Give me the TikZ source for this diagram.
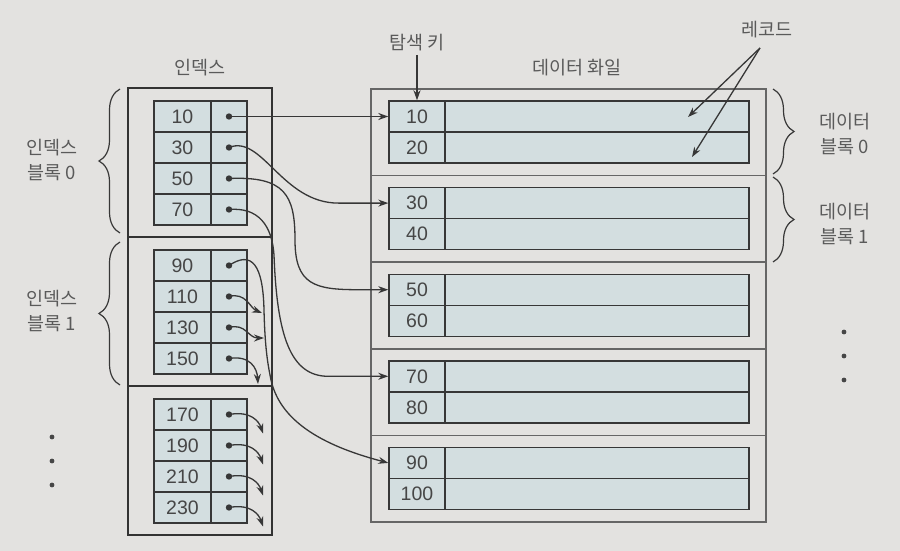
\documentclass[tikz,border=0pt]{standalone}
\usepackage{fontspec}
\setmainfont{Liberation Sans}
\newfontfamily\kr{Noto Sans CJK KR}
\usetikzlibrary{arrows.meta,decorations.pathreplacing}
\definecolor{bgcol}{RGB}{227,226,224}
\definecolor{cellcol}{RGB}{211,222,224}
\definecolor{linecol}{RGB}{55,55,55}
\definecolor{txtcol}{RGB}{70,70,70}
\definecolor{lblcol}{RGB}{90,90,90}

\tikzset{
  cell/.style={draw=linecol, fill=cellcol, line width=1.4pt, minimum height=31pt,
    inner sep=0pt, text=txtcol, font=\fontsize{19.5}{19.5}\selectfont},
  ikeycell/.style={cell, minimum width=57pt},
  iptrcell/.style={cell, minimum width=36pt},
  dkeycell/.style={cell, minimum width=56pt},
  reccell/.style={cell, minimum width=304pt},
  iblock/.style={draw=black!80, line width=2.4pt, minimum width=144pt, minimum height=149pt, inner sep=0pt},
  dblock/.style={draw=black!60, line width=1.5pt, minimum width=395pt, minimum height=86.6pt, inner sep=0pt},
  lbl/.style={text=lblcol, font=\kr\fontsize{18.5}{25}\selectfont, align=center},
  brace/.style={decorate, decoration={brace, amplitude=21pt}, draw=linecol, line width=1.2pt},
  ptr/.style={linecol, line width=1.3pt, -{Stealth[length=10pt,width=7pt]}}
}

\begin{document}
\begin{tikzpicture}[x=1pt,y=-1pt]
  \fill[bgcol] (0,0) rectangle (900,551);
  \useasboundingbox (0,0) rectangle (900,551);

  % index file
  \foreach \b in {0,1,2}
    \node[iblock] (iblk\b) at (200,162.5+149*\b) {};
  \foreach \b in {0,1,2}
    \foreach \r in {0,...,3} {
      \pgfmathtruncatemacro{\k}{10+20*(4*\b+\r)}
      \node[ikeycell] (ikey\k) at (182.5,116.5+149*\b+31*\r) {\k};
      \node[iptrcell] (iptr\k) at (229,116.5+149*\b+31*\r) {};
      \fill[linecol] (iptr\k.center) circle (3.2);
    }

  % data file
  \foreach \k in {0,...,4} {
    \node[dblock] (dblk\k) at (568.5,132.3+86.6*\k) {};
    \foreach \j in {0,1} {
      \pgfmathtruncatemacro{\v}{20*\k+10*\j+10}
      \node[dkeycell] (dkey\v) at (417,116.5+86.6*\k+31*\j) {\v};
      \node[reccell] (drec\v) at (597,116.5+86.6*\k+31*\j) {};
    }
  }

  % labels
  \node[lbl] (ilab) at (200,68) {인덱스};
  \node[lbl] (dlab) at (577,68) {데이터 화일};
  \node[lbl] (skey) at (417,43) {탐색 키};
  \node[lbl] (rlab) at (767,30) {레코드};
  \node[lbl] (iblab0) at (52,160) {인덱스\\블록 0};
  \node[lbl] (iblab1) at (52,311) {인덱스\\블록 1};
  \node[lbl] (dblab0) at (845,134) {데이터\\블록 0};
  \node[lbl] (dblab1) at (845,224) {데이터\\블록 1};

  % braces
  \draw[brace] (120,233) -- (120,89);
  \draw[brace] (120,385) -- (120,242);
  \draw[brace] (773,89) -- (773,174);
  \draw[brace] (773,177) -- (773,262);

  % dots
  \foreach \y in {437,461,485} \fill[txtcol] (52,\y) circle (2.4);
  \foreach \y in {332,356,380} \fill[txtcol] (844,\y) circle (2.4);

  % search key and records
  \draw[ptr] (skey.south) -- (dkey10.north);
  \coordinate (rtop) at (760,48);
  \coordinate (rec1) at (688,117);
  \coordinate (rec2) at (692,157);
  \draw[ptr] (rtop) -- (rec1);
  \draw[ptr] (rtop) -- (rec2);

  % pointers to data blocks
  \draw[ptr] (iptr10.center) -- (dkey10.west);
  \draw[ptr] (iptr30.center) .. controls (262,134) and (282,203) .. ([xshift=-50]dkey30.west) -- (dkey30.west);
  \draw[ptr] (iptr50.center) .. controls (285,176) and (295,195) .. (295,240)
    .. controls (295,285) and (315,289.7) .. ([xshift=-30]dkey50.west) -- (dkey50.west);
  \draw[ptr] (iptr70.center) .. controls (258,207) and (272,225) .. (274,255)
    .. controls (277,335) and (290,376.3) .. ([xshift=-60]dkey70.west) -- (dkey70.west);
  \draw[ptr] (iptr90.center) .. controls (252,250) and (263,265) .. (264,310)
    .. controls (265,350) and (268,365) .. (271,380)
    .. controls (280,420) and (320,445) .. (dkey90.west);

  % pointers to other index blocks
  \draw[ptr] (iptr110.center) .. controls (246,292) and (250,308) .. (262,313);
  \draw[ptr] (iptr130.center) .. controls (246,323) and (248,338) .. (264,338);
  \draw[ptr] (iptr150.center) .. controls (250,355) and (257,368) .. (258,384);
  \foreach \k in {170,190,210,230}
    \draw[ptr] (iptr\k.center) .. controls +(22,-4) and +(-4,-12) .. ++(34,19);
\end{tikzpicture}
\end{document}
